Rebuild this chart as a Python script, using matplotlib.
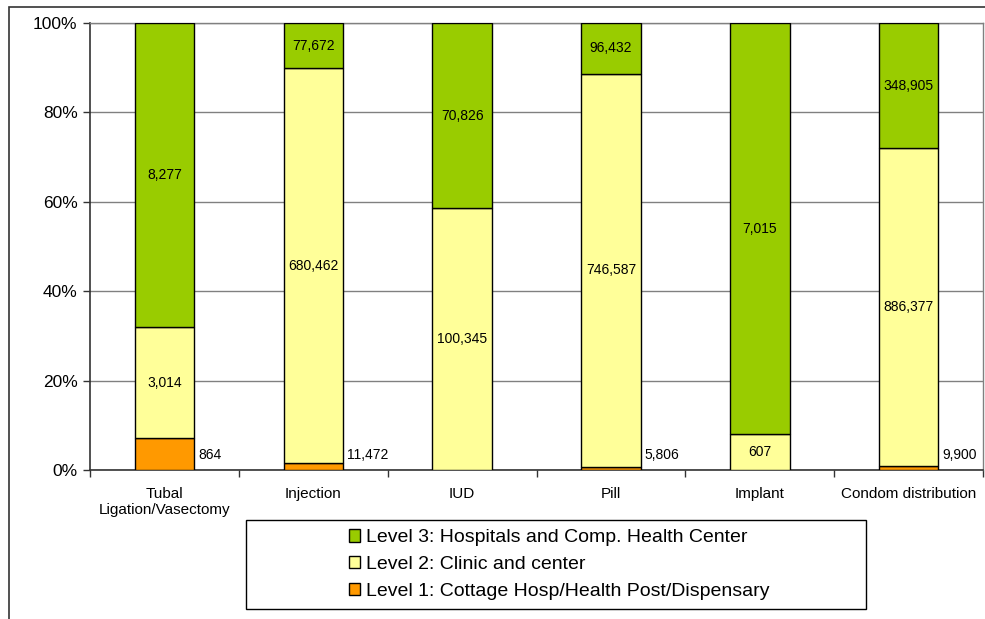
import matplotlib.pyplot as plt
import numpy as np
from matplotlib.patches import Rectangle

plt.rcParams["font.family"] = ["Liberation Sans", "DejaVu Sans"]

categories = ["Tubal\nLigation/Vasectomy", "Injection", "IUD", "Pill", "Implant",
              "Condom distribution"]
level1 = [864, 11472, 0, 5806, 0, 9900]
level2 = [3014, 680462, 100345, 746587, 607, 886377]
level3 = [8277, 77672, 70826, 96432, 7015, 348905]
series_names = ["Level 1: Cottage Hosp/Health Post/Dispensary",
                "Level 2: Clinic and center",
                "Level 3: Hospitals and Comp. Health Center"]
colors = ["#FF9900", "#FFFF99", "#99CC00"]

counts = np.array([level1, level2, level3], dtype=float)
shares = counts / counts.sum(axis=0)

fig = plt.figure(figsize=(9.85, 6.19), dpi=100)
ax = fig.add_axes([0.0914, 0.2407, 0.9066, 0.7221])

# outer chart frame (left/top edges visible)
fig.patches.append(Rectangle((9 / 985, -0.1), 1.2, (619 - 7) / 619 + 0.1,
                             transform=fig.transFigure, fill=False,
                             edgecolor="#333333", linewidth=1.2))

x = np.arange(len(categories))
width = 0.4
bottom = np.zeros(len(categories))
bars = []
for i in range(3):
    b = ax.bar(x, shares[i], width, bottom=bottom, color=colors[i],
               edgecolor="black", linewidth=1.0, label=series_names[i], zorder=3)
    bars.append(b)
    for j in range(len(categories)):
        v = counts[i, j]
        if v == 0:
            continue
        if i == 0:
            ax.annotate(f"{int(v):,}", (x[j] + width / 2, 0), xytext=(3, 11),
                        textcoords="offset points", ha="left", va="center",
                        fontsize=10, zorder=4)
        else:
            ax.text(x[j], bottom[j] + shares[i, j] / 2, f"{int(v):,}",
                    ha="center", va="center", fontsize=10, zorder=4)
    bottom += shares[i]

ax.set_xlim(-0.5, len(categories) - 0.5)
ax.set_ylim(0, 1)
ax.set_yticks(np.linspace(0, 1, 6))
ax.set_yticklabels([f"{int(t * 100)}%" for t in np.linspace(0, 1, 6)], fontsize=12.5)
ax.yaxis.grid(True, color="#808080", linewidth=1, zorder=0)
ax.set_xticks(x)
ax.set_xticklabels(categories, fontsize=11)
ax.set_xticks(np.arange(len(categories) + 1) - 0.5, minor=True)
ax.tick_params(axis="x", which="major", length=0, pad=12)
ax.tick_params(axis="x", which="minor", length=5, width=1, color="#333333")
ax.tick_params(axis="y", length=5, width=1, color="#333333", pad=4)

for side in ["left", "bottom"]:
    ax.spines[side].set_color("#333333")
    ax.spines[side].set_linewidth(1.2)
for side in ["top", "right"]:
    ax.spines[side].set_color("#808080")
    ax.spines[side].set_linewidth(1)

# legend box is wider than its content, so draw it separately
fig.patches.append(Rectangle((246 / 985, 10 / 619), 620 / 985, 89 / 619,
                             transform=fig.transFigure, fill=False,
                             edgecolor="black", linewidth=1))
handles = [bars[2], bars[1], bars[0]]
labels = [series_names[2], series_names[1], series_names[0]]
fig.legend(handles, labels, loc="center", bbox_to_anchor=(559 / 985, 0.088),
           fontsize=14, frameon=False, handlelength=0.6, handleheight=0.6,
           handletextpad=0.3, labelspacing=0.5, borderpad=0.2)

fig.savefig("out.png", dpi=100)
